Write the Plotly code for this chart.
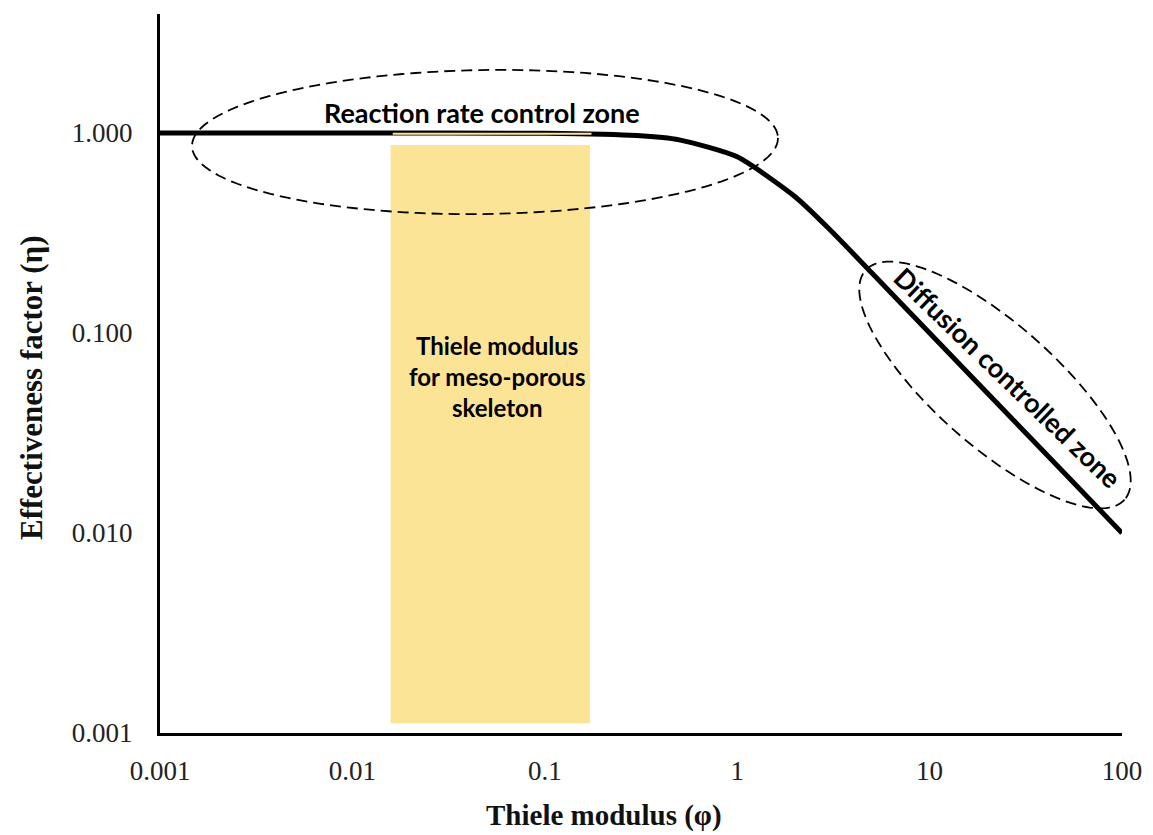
import numpy as np
import plotly.graph_objects as go

# Data
phi = [0.001, 0.01, 0.1, 0.3, 0.5, 1.0, 2.0, 3.0, 5.0, 10.0, 20.0, 50.0, 100.0]
eta = [1.0, 1.0, 0.997, 0.971, 0.924, 0.76, 0.48, 0.332, 0.2, 0.1, 0.05, 0.02, 0.01]

band_x = [0.0158, 0.172]
band_y = [0.00112, 0.871]

x_ticks = [0.001, 0.01, 0.1, 1, 10, 100]
x_tick_labels = ["0.001", "0.01", "0.1", "1", "10", "100"]
y_ticks = [0.001, 0.01, 0.1, 1]
y_tick_labels = ["0.001", "0.010", "0.100", "1.000"]

# page body has an 8px margin; compensate so the plot lands where the reference has it
OFF = 8
W, H = 1153 - OFF, 835 - OFF
PLOT_L, PLOT_R, PLOT_T, PLOT_B = 160, 1122, 14, 733   # window pixel coords of plot area
L = PLOT_L - OFF
T = PLOT_T - OFF
R = W - (PLOT_R - OFF)
B = H - (PLOT_B - OFF)
PW, PH = PLOT_R - PLOT_L, PLOT_B - PLOT_T
YTOP = (PLOT_B - PLOT_T) / 200.0 - 3


def to_paper(X, Y):
    return (X - PLOT_L) / PW, (PLOT_B - Y) / PH


def ellipse_path(cx, cy, a, b, ang_deg, n=140):
    th = np.linspace(0, 2 * np.pi, n)
    ang = np.deg2rad(ang_deg)
    pts = []
    for t in th:
        x = a * np.cos(t)
        y = b * np.sin(t)
        X = cx + x * np.cos(ang) - y * np.sin(ang)
        Y = cy + x * np.sin(ang) + y * np.cos(ang)
        pts.append(to_paper(X, Y))
    return "M " + " L ".join(f"{p[0]:.5f},{p[1]:.5f}" for p in pts) + " Z"


fig = go.Figure()

# yellow band
fig.add_trace(go.Scatter(
    x=[band_x[0], band_x[1], band_x[1], band_x[0], band_x[0]],
    y=[band_y[0], band_y[0], band_y[1], band_y[1], band_y[0]],
    fill="toself", fillcolor="#FCE497", mode="none", hoverinfo="skip",
    showlegend=False))

# curve
fig.add_trace(go.Scatter(
    x=phi, y=eta, mode="lines",
    line=dict(color="black", width=5, shape="spline", smoothing=0.6),
    showlegend=False))

# thin yellow line over curve
fig.add_trace(go.Scatter(
    x=[0.0162, 0.175], y=[0.99, 0.99], mode="lines",
    line=dict(color="#FCE497", width=2), hoverinfo="skip", showlegend=False))

dash = "11px,6px"
shapes = [
    dict(type="path", xref="paper", yref="paper", path=ellipse_path(485, 142, 293, 72, -0.8),
         line=dict(color="black", width=1.8, dash=dash)),
    dict(type="path", xref="paper", yref="paper", path=ellipse_path(995, 385, 173, 61, 41.5),
         line=dict(color="black", width=1.8, dash=dash)),
]

sans = "Lato, Open Sans, sans-serif"
serif = "Liberation Serif, Times New Roman, serif"
annotations = []
x_, y_ = to_paper(482, 112)
annotations.append(dict(xref="paper", yref="paper", x=x_, y=y_, text="<b>Reaction rate control zone</b>",
                        showarrow=False, font=dict(family=sans, size=27, color="black"),
                        xanchor="center", yanchor="middle"))
x_, y_ = to_paper(497, 376)
annotations.append(dict(xref="paper", yref="paper", x=x_, y=y_,
                        text="<b>Thiele modulus<br>for meso-porous<br>skeleton</b>",
                        showarrow=False, font=dict(family=sans, size=24, color="black"),
                        xanchor="center", yanchor="middle", align="center"))
x_, y_ = to_paper(1008, 377)
annotations.append(dict(xref="paper", yref="paper", x=x_, y=y_, text="<b>Diffusion controlled zone</b>",
                        showarrow=False, font=dict(family=sans, size=27, color="black"),
                        textangle=44, xanchor="center", yanchor="middle"))
# axis titles as annotations for precise placement
x_, y_ = to_paper(604, 815)
annotations.append(dict(xref="paper", yref="paper", x=x_, y=y_, text="<b>Thiele modulus (φ)</b>",
                        showarrow=False, font=dict(family=serif, size=29, color="#111"),
                        xanchor="center", yanchor="middle"))
x_, y_ = to_paper(31, 388)
annotations.append(dict(xref="paper", yref="paper", x=x_, y=y_, text="<b>Effectiveness factor (η)</b>",
                        showarrow=False, font=dict(family=serif, size=31, color="#111"),
                        textangle=-90, xanchor="center", yanchor="middle"))

fig.update_layout(
    width=W, height=H,
    margin=dict(l=L, r=R, t=T, b=B),
    plot_bgcolor="white", paper_bgcolor="white",
    shapes=shapes, annotations=annotations,
    showlegend=False,
    xaxis=dict(type="log", range=[-3, 2], tickvals=x_ticks, ticktext=x_tick_labels,
               showgrid=False, zeroline=False, showline=True, linecolor="black", linewidth=3,
               ticks="", ticklabelstandoff=12,
               tickfont=dict(family=serif, size=27, color="#222")),
    yaxis=dict(type="log", range=[-3, YTOP], tickvals=y_ticks, ticktext=y_tick_labels,
               showgrid=False, zeroline=False, showline=True, linecolor="black", linewidth=3,
               ticks="", ticklabelstandoff=19,
               tickfont=dict(family=serif, size=27, color="#222")),
)

fig.write_html("out.html")
